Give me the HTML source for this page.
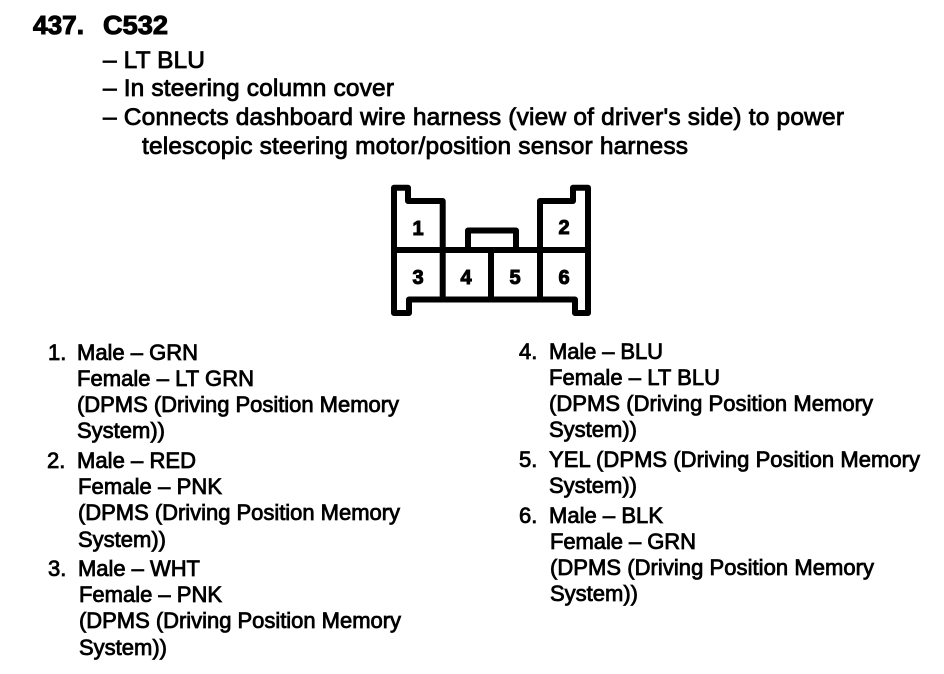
<!DOCTYPE html>
<html><head><meta charset="utf-8"><style>
html,body{margin:0;padding:0;background:#fff}
svg{display:block}
text{font-family:"Liberation Sans",sans-serif;fill:#000;stroke:#000;stroke-width:.8px}
.h{font-size:25.5px;font-weight:bold;stroke-width:1px}
.m{font-size:24.5px}
.s{font-size:22px}
.n{font-size:20px;font-weight:bold;stroke-width:1px}
</style></head><body>
<svg width="944" height="674" viewBox="0 0 944 674" xmlns="http://www.w3.org/2000/svg">
<text class="h" x="33" y="34" textLength="51" lengthAdjust="spacingAndGlyphs">437.</text>
<text class="h" x="103" y="34" textLength="65" lengthAdjust="spacingAndGlyphs">C532</text>
<text class="m" x="103" y="68" textLength="102">– LT BLU</text>
<text class="m" x="103" y="96" textLength="291">– In steering column cover</text>
<text class="m" x="103" y="125" textLength="741">– Connects dashboard wire harness (view of driver's side) to power</text>
<text class="m" x="142" y="154" textLength="546">telescopic steering motor/position sensor harness</text>

<g fill="none" stroke="#000" stroke-width="6" stroke-linejoin="round">
<path d="M394 248V187.7H408V201H442.7V300"/>
<path d="M394 248V313H409V299.5H575V313H588V187.7H573V201H540V300"/>
<path d="M394 250H588"/>
<path d="M468 250V230.5H516V250"/>
<path d="M491 250V300"/>
</g>
<g class="n" text-anchor="middle">
<text class="n" x="418" y="235">1</text>
<text class="n" x="564" y="234">2</text>
<text class="n" x="418" y="284">3</text>
<text class="n" x="466" y="284">4</text>
<text class="n" x="515" y="284">5</text>
<text class="n" x="564" y="284">6</text>
</g>

<text class="s" x="48" y="360">1.</text>
<text class="s" x="77" y="360" textLength="121">Male – GRN</text>
<text class="s" x="77" y="386" textLength="177">Female – LT GRN</text>
<text class="s" x="77" y="412" textLength="322">(DPMS (Driving Position Memory</text>
<text class="s" x="77" y="438" textLength="88">System))</text>
<text class="s" x="47" y="468">2.</text>
<text class="s" x="77" y="468" textLength="119">Male – RED</text>
<text class="s" x="78" y="494" textLength="144">Female – PNK</text>
<text class="s" x="78" y="520" textLength="322">(DPMS (Driving Position Memory</text>
<text class="s" x="78" y="547" textLength="88">System))</text>
<text class="s" x="48" y="576">3.</text>
<text class="s" x="78" y="576" textLength="122">Male – WHT</text>
<text class="s" x="79" y="602" textLength="143">Female – PNK</text>
<text class="s" x="79" y="628" textLength="322">(DPMS (Driving Position Memory</text>
<text class="s" x="79" y="655" textLength="88">System))</text>

<text class="s" x="519" y="359">4.</text>
<text class="s" x="549" y="359" textLength="114">Male – BLU</text>
<text class="s" x="549" y="385" textLength="171">Female – LT BLU</text>
<text class="s" x="549" y="411" textLength="324">(DPMS (Driving Position Memory</text>
<text class="s" x="549" y="437" textLength="88">System))</text>
<text class="s" x="519" y="467">5.</text>
<text class="s" x="549" y="467" textLength="371">YEL (DPMS (Driving Position Memory</text>
<text class="s" x="549" y="493" textLength="88">System))</text>
<text class="s" x="519" y="523">6.</text>
<text class="s" x="549" y="523" textLength="114">Male – BLK</text>
<text class="s" x="550" y="549" textLength="146">Female – GRN</text>
<text class="s" x="550" y="575" textLength="324">(DPMS (Driving Position Memory</text>
<text class="s" x="550" y="601" textLength="88">System))</text>
</svg>
</body></html>
